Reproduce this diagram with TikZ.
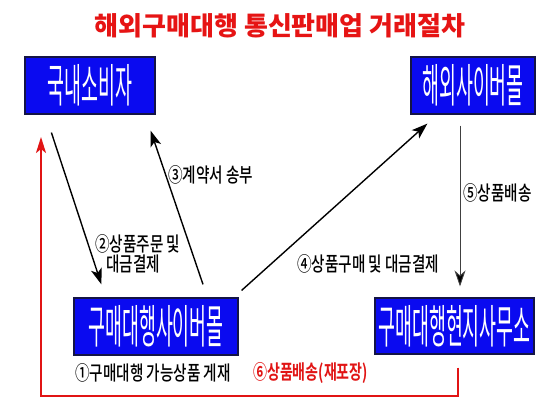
\documentclass[tikz,border=0pt]{standalone}
\usepackage{fontspec}
\setmainfont{Noto Sans CJK KR}
\newfontfamily\krblack{Noto Sans CJK KR Black}
\newfontfamily\krbold{Noto Sans CJK KR Bold}
\newfontfamily\krmed{Noto Sans CJK KR Medium}
\usetikzlibrary{arrows.meta,calc}
\definecolor{boxblue}{RGB}{10,10,240}
\definecolor{boxedge}{RGB}{20,20,70}
\definecolor{redline}{RGB}{225,20,20}
\definecolor{titlered}{RGB}{230,20,20}
\tikzset{
  bluebox/.style={draw=boxedge, line width=1.2pt, fill=boxblue, text=white,
    inner sep=0pt, anchor=center},
  lab/.style={font=\krmed\fontsize{20}{20}\selectfont, anchor=west, inner sep=0pt},
  arr/.style={line width=1.4pt, -{Stealth[length=16pt,width=11pt,inset=4pt]}},
  thinarr/.style={line width=0.9pt, draw=black!75, -{Stealth[length=16pt,width=11pt,inset=5pt,fill=black]}},
  redarr/.style={line width=2pt, draw=redline, -{Stealth[length=16pt,width=10pt,inset=4pt]}},
}
\newcommand{\nw}[2]{\scalebox{#1}[1]{#2}}
\newcommand{\bx}[1]{\scalebox{0.40}[1]{\fontsize{46}{46}\selectfont #1}}
\begin{document}
\begin{tikzpicture}[x=1pt,y=-1pt]
\useasboundingbox (0,0) rectangle (540,405);
\fill[white] (0,0) rectangle (540,405);

\node[font=\krblack\fontsize{26}{26}\selectfont, text=titlered, inner sep=0pt] (title) at (280,26) {해외구매대행 통신판매업 거래절차};

\node[bluebox, minimum width=130pt, minimum height=57pt] (cons) at (90,85.5) {\bx{국내소비자}};
\node[bluebox, minimum width=124pt, minimum height=57pt] (over) at (473,85.5) {\bx{해외사이버몰}};
\node[bluebox, minimum width=164pt, minimum height=57pt] (agent) at (156,326.5) {\bx{구매대행사이버몰}};
\node[bluebox, minimum width=159pt, minimum height=56pt] (local) at (454.5,326) {\bx{구매대행현지사무소}};

% arrow endpoints
\coordinate (a2s) at ($(cons.south west)+(27,18)$);
\coordinate (a2e) at ($(agent.north west)+(28,-13)$);
\coordinate (a3s) at ($(agent.north)+(47,-13)$);
\coordinate (a3e) at ($(cons.south east)+(-5,16)$);
\coordinate (a4s) at ($(agent.north east)+(3,-7)$);
\coordinate (a4e) at ($(over.south west)+(17,9)$);
\coordinate (a5s) at ($(over.south)+(-13,11)$);
\coordinate (a5e) at ($(local.north)+(5.5,-11)$);
\coordinate (r1) at ($(local.south)+(3.5,13)$);
\coordinate (rb) at (41,396);
\coordinate (rt) at (41,137);

\draw[arr] (a2s) -- (a2e);
\draw[arr] (a3s) -- (a3e);
\draw[arr] (a4s) -- (a4e);
\draw[thinarr] (a5s) -- (a5e);
\draw[redarr] (r1) |- (rb) -- (rt);

\node[lab] (l3) at (168,175) {\nw{0.73}{③계약서 송부}};
\node[lab] (l2a) at (95,244) {\nw{0.73}{②상품주문 및}};
\node[lab] (l2b) at (106,264) {\nw{0.73}{대금결제}};
\node[lab] (l4) at (297,264) {\nw{0.73}{④상품구매 및 대금결제}};
\node[lab] (l5) at (463,193) {\nw{0.73}{⑤상품배송}};
\node[lab] (l1) at (75,373) {\nw{0.73}{①구매대행 가능상품 게재}};
\node[lab, text=redline, font=\krbold\fontsize{20}{20}\selectfont] (l6) at (253,373) {\nw{0.70}{⑥상품배송(재포장)}};
\end{tikzpicture}
\end{document}
